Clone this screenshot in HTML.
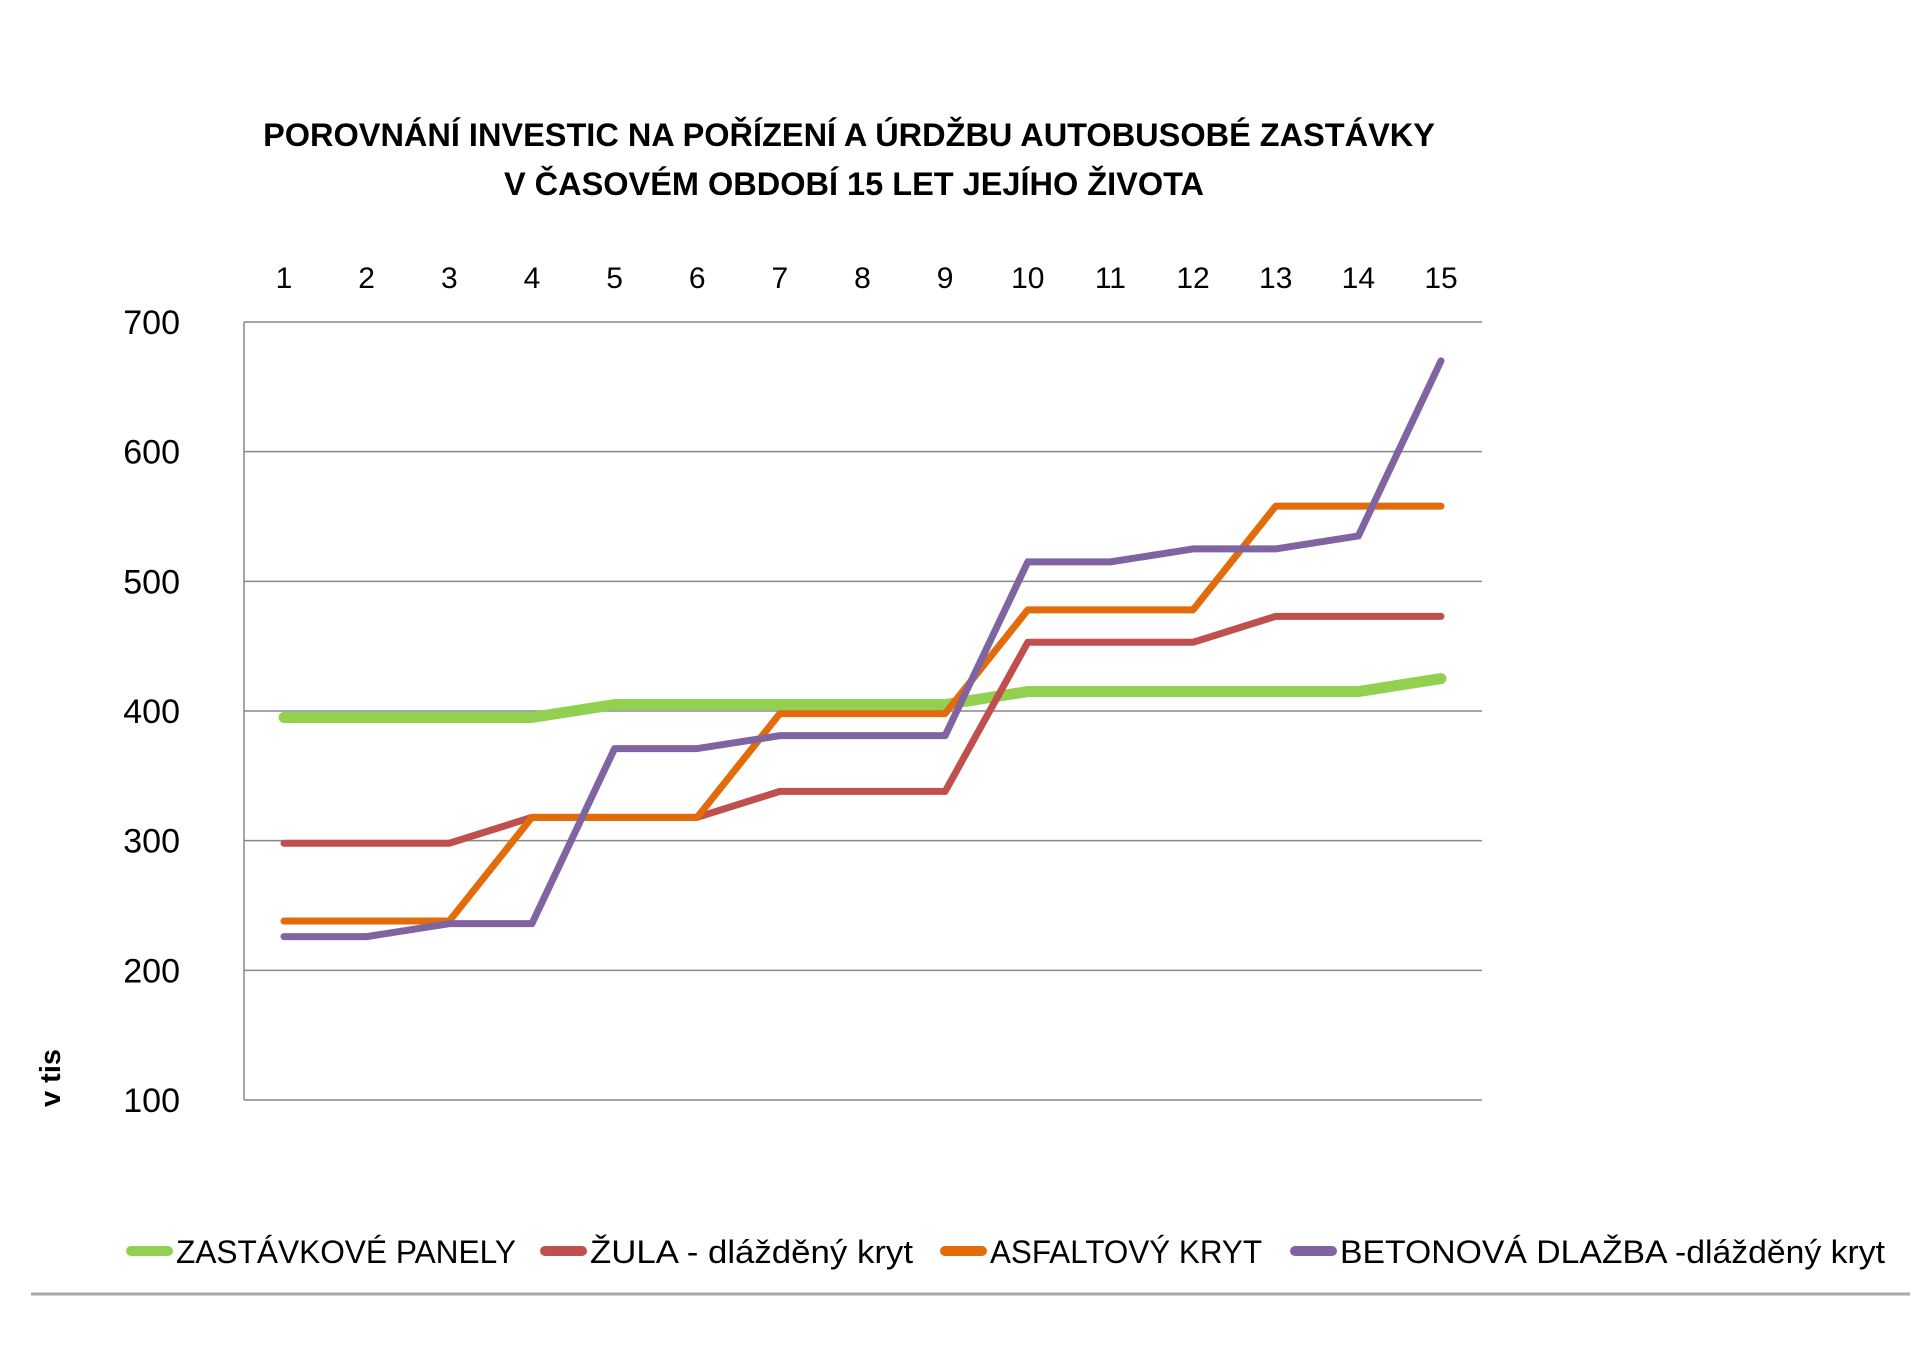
<!DOCTYPE html>
<html><head><meta charset="utf-8"><style>
html,body{margin:0;padding:0;background:#fff;width:1920px;height:1357px;overflow:hidden}
svg{display:block}
text{font-family:"Liberation Sans",sans-serif}
</style></head><body>
<svg id="s" width="1920" height="1357" xmlns="http://www.w3.org/2000/svg">
<text x="849" y="146" font-size="32.5" font-weight="bold" text-anchor="middle">POROVNÁNÍ  INVESTIC NA POŘÍZENÍ A ÚRDŽBU AUTOBUSOBÉ ZASTÁVKY</text>
<text x="854" y="195" font-size="32.5" font-weight="bold" text-anchor="middle">V ČASOVÉM OBDOBÍ 15 LET JEJÍHO ŽIVOTA</text>
<text transform="translate(60,1078) rotate(-90)" font-size="29" font-weight="bold" text-anchor="middle">v tis</text>
<line x1="31" y1="1294" x2="1910" y2="1294" stroke="#aaa" stroke-width="3"/>
<g id="g"></g>
</svg>
<script>
var g=document.getElementById('g'),h='';
var L=244,R=1482,T=322,B=1100;
function Y(v){return B-(v-100)*(B-T)/600}
function X(i){return 284+(i-1)*(1441-284)/14}
for(var v=200;v<=700;v+=100){h+='<line x1="'+L+'" y1="'+Y(v)+'" x2="'+R+'" y2="'+Y(v)+'" stroke="#888" stroke-width="1.5"/>';}
h+='<line x1="'+L+'" y1="'+T+'" x2="'+L+'" y2="'+B+'" stroke="#888" stroke-width="1.5"/>';
h+='<line x1="'+L+'" y1="'+B+'" x2="'+R+'" y2="'+B+'" stroke="#888" stroke-width="1.5"/>';
for(var v=100;v<=700;v+=100){h+='<text x="180" y="'+(Y(v)+12)+'" font-size="34" text-anchor="end">'+v+'</text>';}
for(var i=1;i<=15;i++){h+='<text x="'+X(i)+'" y="288" font-size="30" text-anchor="middle">'+i+'</text>';}
var S=[
['#92d050',11,[395,395,395,395,405,405,405,405,405,415,415,415,415,415,425]],
['#c0504d',7,[298,298,298,318,318,318,338,338,338,453,453,453,473,473,473]],
['#e36c0a',7,[238,238,238,318,318,318,398,398,398,478,478,478,558,558,558]],
['#8064a2',7,[226,226,236,236,371,371,381,381,381,515,515,525,525,535,670]]];
S.forEach(function(s){var p=s[2].map(function(v,i){return X(i+1)+','+Y(v)}).join(' ');
h+='<polyline points="'+p+'" fill="none" stroke="'+s[0]+'" stroke-width="'+s[1]+'" stroke-linejoin="round" stroke-linecap="round"/>';});
var lg=[['#92d050',126,'ZASTÁVKOVÉ PANELY',340],['#c0504d',540,'ŽULA - dlážděný kryt',323],['#e36c0a',940,'ASFALTOVÝ KRYT',272],['#8064a2',1290,'BETONOVÁ DLAŽBA -dlážděný kryt',545]];
lg.forEach(function(l){h+='<line x1="'+(l[1]+5)+'" y1="1251" x2="'+(l[1]+42)+'" y2="1251" stroke="'+l[0]+'" stroke-width="10" stroke-linecap="round"/>';
h+='<text x="'+(l[1]+50)+'" y="1263" font-size="32" textLength="'+l[3]+'" lengthAdjust="spacingAndGlyphs">'+l[2]+'</text>';});
g.innerHTML=h;
</script>
</body></html>
